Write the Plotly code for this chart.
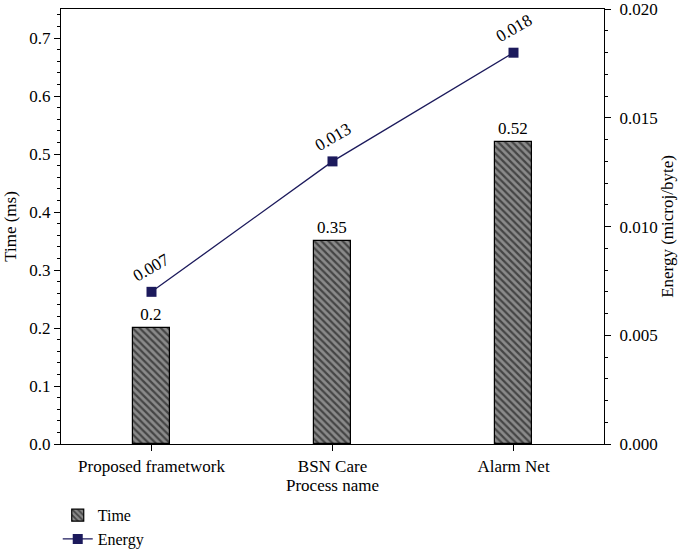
import plotly.graph_objects as go

categories = ["Proposed frametwork", "BSN Care", "Alarm Net"]
time_ms = [0.2, 0.35, 0.52]
energy = [0.007, 0.013, 0.018]
time_labels = ["0.2", "0.35", "0.52"]
energy_labels = ["0.007", "0.013", "0.018"]

FONT = "Liberation Serif"
FS = 17
NAVY = "#1c1a5c"

fig = go.Figure()
fig.add_trace(go.Bar(
    x=categories, y=time_ms, name="Time", width=0.205,
    text=time_labels, textposition="outside", cliponaxis=False,
    textfont=dict(family=FONT, size=FS, color="black"),
    marker=dict(color="#6e6e6e", line=dict(color="black", width=1.2),
                pattern=dict(shape="\\", fgcolor="black", bgcolor="#8a8a8a",
                             size=5, solidity=0.45)),
    yaxis="y",
))
fig.add_trace(go.Scatter(
    x=categories, y=energy, name="Energy", mode="lines+markers",
    line=dict(color=NAVY, width=1.3),
    marker=dict(symbol="square", size=10, color=NAVY),
    yaxis="y2",
))
for c, v, t in zip(categories, energy, energy_labels):
    fig.add_annotation(x=c, y=v, yref="y2", text=t, showarrow=False,
                       textangle=-30, yshift=24, xshift=0,
                       font=dict(family=FONT, size=FS, color="black"))

fig.update_layout(
    width=678, height=550,
    margin=dict(l=61, r=74, t=9, b=106, autoexpand=False),
    paper_bgcolor="white", plot_bgcolor="white",
    font=dict(family=FONT, size=FS, color="black"),
    showlegend=True,
    legend=dict(x=-0.006, y=-0.258, xanchor="left", yanchor="bottom",
                orientation="v", font=dict(family=FONT, size=16),
                tracegroupgap=0, bgcolor="rgba(0,0,0,0)"),
    bargap=0.0,
    xaxis=dict(range=[-0.5, 2.5], showline=True, linecolor="black", linewidth=1.2,
               mirror=True, ticks="outside", ticklen=6, tickcolor="black",
               ticklabelstandoff=0, automargin=False,
               tickfont=dict(family=FONT, size=FS),
               title=dict(text="Process name", standoff=4,
                          font=dict(family=FONT, size=FS)), showgrid=False),
    yaxis=dict(range=[0, 0.75], dtick=0.1, tickformat=".1f", showline=True,
               linecolor="black", linewidth=1.2, ticks="outside", ticklen=6,
               tickcolor="black", showgrid=False, zeroline=False, automargin=False,
               tickfont=dict(family=FONT, size=FS),
               title=dict(text="Time (ms)", standoff=8, font=dict(family=FONT, size=FS)),
               minor=dict(dtick=0.02, ticks="outside", ticklen=3, tickcolor="black")),
    yaxis2=dict(range=[0, 0.02001], dtick=0.005, tickformat=".3f", overlaying="y",
                side="right", showline=True, linecolor="black", linewidth=1.2,
                ticks="outside", ticklen=6, tickcolor="black", showgrid=False,
                zeroline=False, automargin=False, ticklabelstandoff=5,
                ticklabeloverflow="allow",
                tickfont=dict(family=FONT, size=FS),
                title=dict(text="Energy (microj/byte)", standoff=3,
                           font=dict(family=FONT, size=FS)),
                minor=dict(dtick=0.001, ticks="outside", ticklen=3, tickcolor="black")),
)

fig.write_html("out.html", config={"displayModeBar": False},
               post_script="document.body.style.margin='0';")
